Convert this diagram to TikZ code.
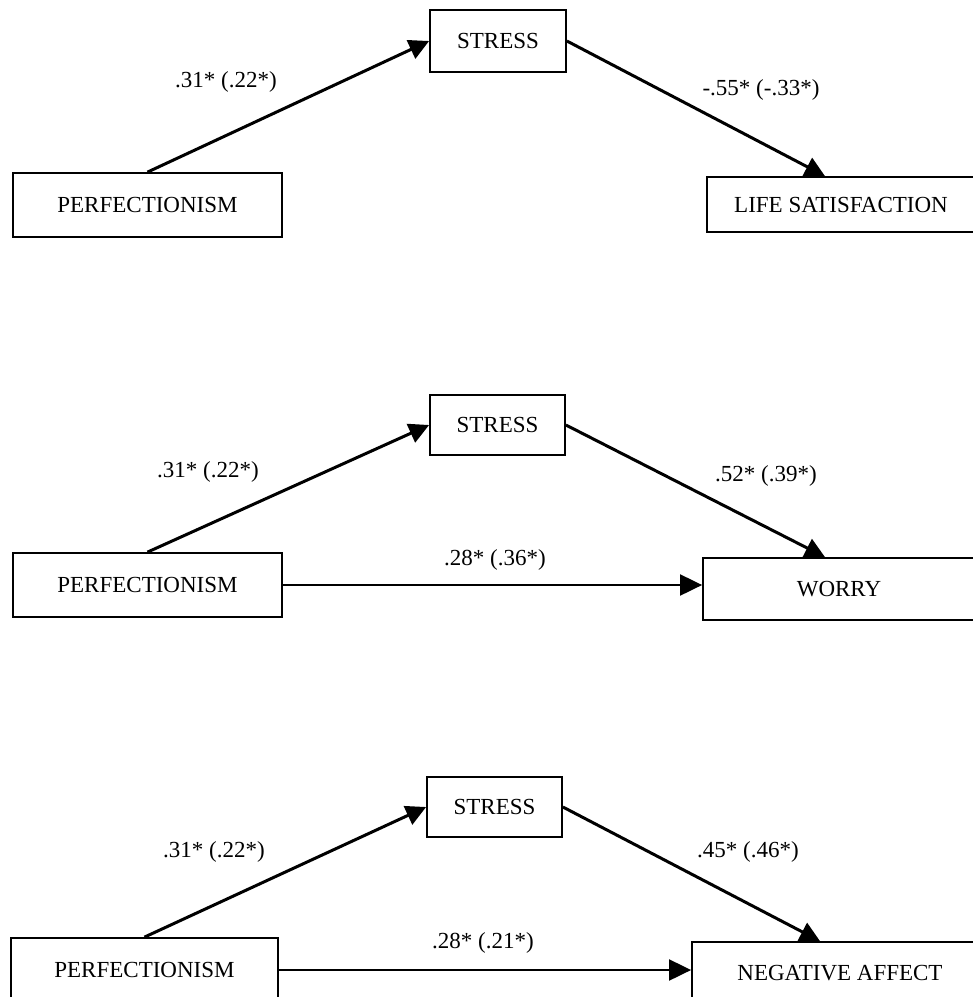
\documentclass[tikz,border=0pt]{standalone}
\usepackage{fontspec}
\setmainfont{Liberation Serif}
\usetikzlibrary{arrows.meta}

\begin{document}
\begin{tikzpicture}[x=1pt,y=-1pt,
  box/.style={draw,line width=1.8pt,inner sep=0pt,font=\fontsize{23}{27}\selectfont},
  coef/.style={font=\fontsize{23}{27}\selectfont},
  medarrow/.style={line width=3pt,-{Triangle[length=20pt,width=20pt]}},
  dirarrow/.style={line width=2pt,-{Triangle[length=22pt,width=21pt]}}]
\useasboundingbox (0,0) rectangle (973,997);
% life satisfaction
\node[box,minimum width=269pt,minimum height=64pt] (perfA) at (147.5,205) {PERFECTIONISM};
\node[box,minimum width=136pt,minimum height=62pt] (stressA) at (498,41) {STRESS};
\node[box,minimum width=268pt,minimum height=55pt] (lifesat) at (841,204.5) {LIFE SATISFACTION};
\draw[medarrow] (perfA.north) -- (stressA.west);
\draw[medarrow] (stressA.east) -- ([xshift=-16pt]lifesat.north);
\node[coef] (coefA1) at (226,82) {.31* (.22*)};
\node[coef] (coefA2) at (761,90) {-.55* (-.33*)};
% worry
\node[box,minimum width=269pt,minimum height=64pt] (perfB) at (147.5,585) {PERFECTIONISM};
\node[box,minimum width=135pt,minimum height=60pt] (stressB) at (497.5,425) {STRESS};
\node[box,minimum width=272pt,minimum height=62pt] (worry) at (839,589) {WORRY};
\draw[medarrow] (perfB.north) -- (stressB.west);
\draw[medarrow] (stressB.east) -- ([xshift=-14pt]worry.north);
\draw[dirarrow] (perfB.east) -- (perfB.east -| worry.west);
\node[coef] (coefB1) at (208,472) {.31* (.22*)};
\node[coef] (coefB2) at (766,476) {.52* (.39*)};
\node[coef] (coefB3) at (495,560) {.28* (.36*)};
% negative affect
\node[box,minimum width=267pt,minimum height=64pt] (perfC) at (144.5,970) {PERFECTIONISM};
\node[box,minimum width=135pt,minimum height=60pt] (stressC) at (494.5,807) {STRESS};
\node[box,minimum width=296pt,minimum height=62pt] (negaff) at (840,973) {NEGATIVE AFFECT};
\draw[medarrow] (perfC.north) -- (stressC.west);
\draw[medarrow] (stressC.east) -- ([xshift=-20pt]negaff.north);
\draw[dirarrow] (perfC.east) -- (perfC.east -| negaff.west);
\node[coef] (coefC1) at (214,852) {.31* (.22*)};
\node[coef] (coefC2) at (748,852) {.45* (.46*)};
\node[coef] (coefC3) at (483,943) {.28* (.21*)};
\end{tikzpicture}
\end{document}
